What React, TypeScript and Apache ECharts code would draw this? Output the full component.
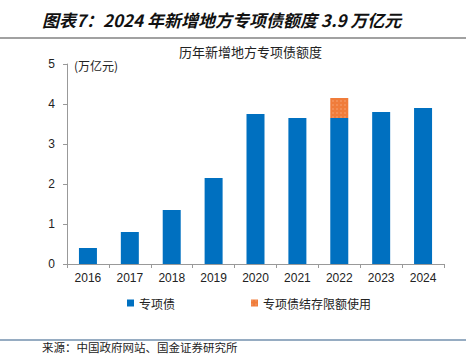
import React, { useEffect, useRef } from "react";
import * as echarts from "echarts";

const categories = ["2016", "2017", "2018", "2019", "2020", "2021", "2022", "2023", "2024"];
const specialBonds = [0.4, 0.8, 1.35, 2.15, 3.75, 3.65, 3.65, 3.8, 3.9];
const carryOverUse = [null, null, null, null, null, null, 0.5, null, null];
const yTicks = [0, 1, 2, 3, 4, 5];

export default function App() {
  const ref = useRef<HTMLDivElement>(null);
  useEffect(() => {
    document.body.style.margin = "0";
    const chart = echarts.init(ref.current!, null, { renderer: "svg" });
    const cjk = "'Noto Sans CJK SC', sans-serif";
    chart.setOption({
      animation: false,
      backgroundColor: "#fff",
      grid: { left: 67, right: 27, top: 64, bottom: 93 },
      graphic: [
        {
          type: "text",
          left: 42,
          top: 11,
          style: {
            text: "图表7：2024 年新增地方专项债额度 3.9 万亿元",
            font: "italic bold 17px 'Noto Sans CJK SC', sans-serif",
            fill: "#111",
          },
        },
        {
          type: "line",
          shape: { x1: 0, y1: 38, x2: 466, y2: 38 },
          style: { stroke: "#444", lineWidth: 1.2 },
        },
        {
          type: "text",
          left: 179,
          top: 45,
          style: {
            text: "历年新增地方专项债额度",
            font: "13px " + cjk,
            fill: "#222",
          },
        },
        {
          type: "text",
          left: 74,
          top: 59,
          style: { text: "(万亿元)", font: "12px " + cjk, fill: "#222" },
        },
        {
          type: "line",
          shape: { x1: 0, y1: 340, x2: 466, y2: 340 },
          style: { stroke: "#2E5B86", lineWidth: 1.2 },
        },
        {
          type: "text",
          left: 42,
          top: 341,
          style: { text: "来源：中国政府网站、国金证券研究所", font: "11.5px " + cjk, fill: "#222" },
        },
      ],
      legend: {
        left: 122,
        top: 292,
        itemWidth: 7,
        itemHeight: 7,
        itemGap: 76,
        icon: "rect",
        textStyle: { fontFamily: "Noto Sans CJK SC", fontSize: 12, color: "#222" },
        data: ["专项债", "专项债结存限额使用"],
      },
      xAxis: {
        type: "category",
        data: categories,
        axisLine: { lineStyle: { color: "#999" } },
        axisTick: { show: true, alignWithLabel: false, length: 4, lineStyle: { color: "#999" } },
        axisLabel: { fontFamily: "Liberation Sans", fontSize: 12, color: "#222", margin: 8 },
      },
      yAxis: {
        type: "value",
        min: 0,
        max: 5,
        interval: 1,
        splitLine: { show: false },
        axisLine: { show: true, lineStyle: { color: "#999" } },
        axisTick: { show: true, length: 4, lineStyle: { color: "#999" } },
        axisLabel: {
          fontFamily: "Liberation Sans",
          fontSize: 12,
          color: "#222",
          margin: 12,
          formatter: (v: number) => (yTicks.includes(v) ? String(v) : ""),
        },
      },
      series: [
        {
          name: "专项债",
          type: "bar",
          stack: "total",
          data: specialBonds,
          barWidth: 18,
          itemStyle: { color: "#0070C0" },
        },
        {
          name: "专项债结存限额使用",
          type: "bar",
          stack: "total",
          data: carryOverUse,
          barWidth: 18,
          itemStyle: {
            color: "#F07C3A",
            decal: {
              symbol: "rect",
              symbolSize: 0.5,
              color: "rgba(255,255,255,0.55)",
              dashArrayX: [2, 2],
              dashArrayY: [2, 2],
              rotation: 0,
            },
          },
        },
      ],
    });
    return () => chart.dispose();
  }, []);
  return <div ref={ref} style={{ width: 471, height: 357, position: "absolute", left: 0, top: 0 }} />;
}
